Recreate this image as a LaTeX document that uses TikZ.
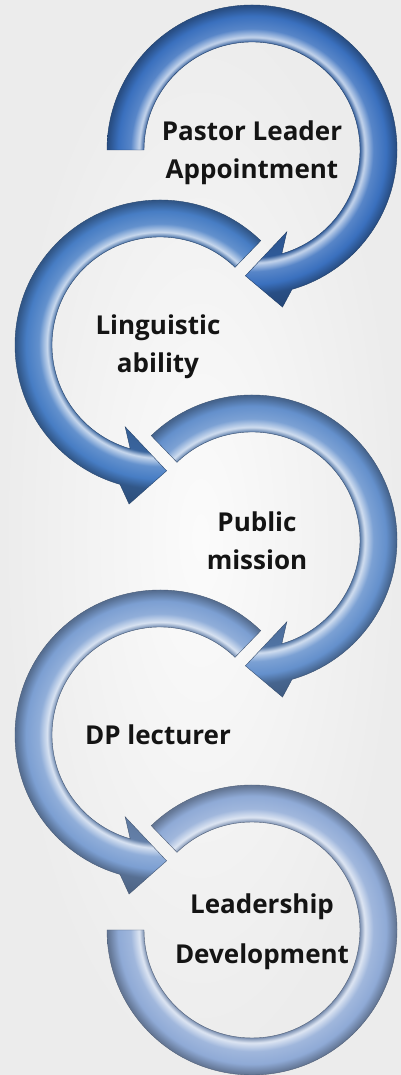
\documentclass[tikz,border=0pt]{standalone}
\usepackage{fontspec}
\setmainfont{Open Sans}

\colorlet{tubecol}{blue}
\pgfdeclareradialshading[tubecol]{tube}{\pgfpoint{0bp}{0bp}}{%
  color(0bp)=(tubecol!75!black);
  color(13bp)=(tubecol!75!black);
  color(16.3bp)=(tubecol!80!black);
  color(17.1bp)=(tubecol!30!white);
  color(18.4bp)=(tubecol!85!white);
  color(20.3bp)=(tubecol);
  color(21.8bp)=(tubecol!70!black);
  color(25bp)=(tubecol!60!black);
  color(50bp)=(tubecol!60!black)}

\definecolor{loopA}{HTML}{3A70BE}
\definecolor{loopB}{HTML}{477DC4}
\definecolor{loopC}{HTML}{6490CC}
\definecolor{loopD}{HTML}{7C9FD2}
\definecolor{loopE}{HTML}{8FAAD6}

\tikzset{
  loop arrow/.style 2 args={draw=#1!55!black, line width=0.4pt,
    path picture={\colorlet{tubecol}{#1}\shade[shading=tube] (#2) circle (165);}},
  loop label/.style={align=center, text=black!92,
    font=\bfseries\fontsize{26}{38}\selectfont}
}

\begin{document}
\begin{tikzpicture}[x=1pt,y=1pt]
  \shade[inner color=gray!3, outer color=gray!15] (0,0) rectangle (401,1075);
  \useasboundingbox (0,0) rectangle (401,1075);

  \coordinate (c1) at (252,925);
  \coordinate (c2) at (160,730);
  \coordinate (c3) at (252,535);
  \coordinate (c4) at (160,340);
  \coordinate (c5) at (252,145);

  % last loop, no head
  \begin{scope}[shift={(c5)}]
    \path[loop arrow={loopE}{c5}] (134:145) arc[start angle=134, end angle=-180, radius=145]
      -- (-180:108) arc[start angle=-180, end angle=134, radius=108] -- cycle;
  \end{scope}
  % counter-clockwise loops
  \begin{scope}[shift={(c4)}]
    \path[loop arrow={loopD}{c4}] (46:145) arc[start angle=46, end angle=254, radius=145]
      -- (259:162) -- (273:126) -- (247:89) -- (254:108)
      arc[start angle=254, end angle=46, radius=108] -- cycle;
  \end{scope}
  % clockwise loops
  \begin{scope}[shift={(c3)}]
    \path[loop arrow={loopC}{c3}] (134:145) arc[start angle=134, end angle=-74, radius=145]
      -- (-79:160) -- (-93:126) -- (-67:89) -- (-74:108)
      arc[start angle=-74, end angle=134, radius=108] -- cycle;
  \end{scope}
  \begin{scope}[shift={(c2)}]
    \path[loop arrow={loopB}{c2}] (46:145) arc[start angle=46, end angle=254, radius=145]
      -- (259:162) -- (273:126) -- (247:89) -- (254:108)
      arc[start angle=254, end angle=46, radius=108] -- cycle;
  \end{scope}
  \begin{scope}[shift={(c1)}]
    \path[loop arrow={loopA}{c1}] (180:145) arc[start angle=180, end angle=-74, radius=145]
      -- (-79:160) -- (-93:126) -- (-67:89) -- (-74:108)
      arc[start angle=-74, end angle=180, radius=108] -- cycle;
  \end{scope}

  \node[loop label] (pastor) at (252,922) {Pastor Leader\\Appointment};
  \node[loop label] (linguistic) at (158,728) {Linguistic\\ability};
  \node[loop label] (public) at (257,534) {Public\\mission};
  \node[loop label] (lecturer) at (158,340) {DP lecturer};
  \node[loop label, font=\bfseries\fontsize{26}{50}\selectfont] (leadership) at (262,143) {Leadership\\Development};
\end{tikzpicture}
\end{document}
